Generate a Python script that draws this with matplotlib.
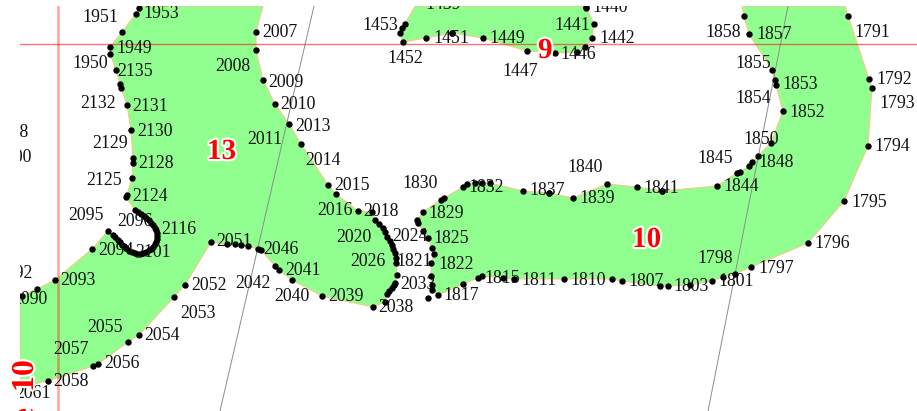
import matplotlib
matplotlib.use('Agg')
import matplotlib.pyplot as plt
import matplotlib.patheffects as pe

# outlines, in pixels of the scanned map
zone13 = [(140, 6), (139, 8), (136, 14), (122, 32), (110, 47), (110, 54), (116, 70), (120, 84), (121, 88),
          (127, 105), (131, 130), (133, 158), (133, 163), (132, 178), (127, 195), (126, 197),
          (135, 210), (138, 212), (141, 214), (144, 216), (146, 218), (149, 220), (151, 223), (153, 225),
          (155, 228), (156, 230), (157, 233), (157, 236), (157, 239), (156, 242), (155, 244), (153, 247),
          (151, 249), (149, 250), (146, 252), (143, 253), (140, 254), (137, 254), (135, 253), (132, 252),
          (129, 251), (126, 248), (124, 246), (122, 245), (120, 242), (118, 240), (115, 237),
          (113, 235), (108, 231), (92, 249), (55, 280), (37, 289), (22, 296), (20, 297), (20, 387),
          (48, 381), (93, 366), (98, 364), (128, 342), (139, 335), (174, 297), (185, 285), (211, 242),
          (227, 244), (235, 244), (241, 245), (248, 246), (258, 249), (261, 250), (275, 266), (279, 270),
          (292, 280), (322, 296), (373, 307), (385, 302), (387, 294), (389, 291), (392, 288), (394, 285),
          (395, 283), (397, 275), (396, 263), (396, 258), (395, 253), (393, 249), (392, 245), (390, 241),
          (387, 237), (385, 232), (383, 228), (379, 224), (375, 220), (372, 212), (358, 211),
          (336, 194), (328, 185), (301, 144), (289, 124), (275, 104), (263, 80), (256, 50), (256, 32),
          (263, 6)]
zone9 = [(415, 6), (405, 24), (402, 28), (400, 33), (403, 42), (426, 38), (452, 33), (483, 38), (527, 51),
         (555, 53), (577, 52), (585, 47), (592, 38), (594, 24), (586, 7), (585, 6)]
zone10 = [(742, 6), (744, 16), (749, 34), (772, 70), (775, 80), (776, 85), (783, 111), (771, 143), (758, 156),
          (752, 162), (749, 166), (740, 172), (737, 173), (717, 186), (662, 191), (637, 187), (607, 184),
          (573, 198), (549, 193), (523, 191), (490, 183), (482, 183), (475, 183), (467, 184), (463, 187),
          (444, 198), (441, 200), (423, 212), (417, 220), (418, 223), (423, 231), (428, 238), (432, 248),
          (434, 254), (431, 263), (431, 276), (432, 285), (432, 290), (438, 295), (463, 284), (478, 278),
          (482, 276), (503, 278), (514, 279), (564, 279), (612, 279), (622, 281), (660, 286), (668, 286),
          (690, 285), (712, 281), (723, 277), (735, 274), (751, 267), (808, 243), (844, 201), (868, 146),
          (872, 88), (869, 79), (848, 16), (845, 6)]
extra_dots = [(428, 298), (549, 193), (662, 191), (586, 8), (418, 6), (452, 33)]

guide_h = [(20, 44), (917, 44)]
guide_v = [(58, 6), (58, 411)]
grid_a = [(314, 6), (220, 411)]
grid_b = [(788, 6), (708, 411)]

labels = ['1951', '1953', '2007', '1949', '2008', '1950', '2135', '2009', '2132', '2131', '2010', '2013',
          '2130', '2129', '2011', '2128', '2125', '2124', '2014', '2015', '2098', '2100',
          '2095', '2096', '2116', '2094', '2101', '2051', '2046', '2041', '2093', '2092', '2090', '2052',
          '2042', '2040', '2053', '2055', '2054', '2057', '2056', '2058', '2061',
          '1830', '1832', '1837', '1839', '2016', '2018', '1829', '2020', '2024', '1825', '2026', '1821',
          '1822', '1815', '1811', '1810', '2033', '2039', '1817', '2038',
          '1841', '1845', '1848', '1844', '1795', '1794', '1796', '1798', '1797', '1807', '1803', '1801',
          '1840', '1850', '1858', '1857', '1791', '1855', '1853', '1792', '1793', '1854', '1852',
          '1453', '1451', '1449', '1441', '1442', '1452', '1447', '1446', '1440', '1439']
label_x = [82, 143, 262, 116, 215, 72, 117, 268, 80, 132, 280, 295,
           137, 92, 247, 138, 86, 132, 305, 334, -7, -4,
           68, 117, 161, 98, 135, 216, 263, 285, 60, -3, 12, 191,
           235, 274, 180, 87, 144, 53, 104, 53, 15,
           402, 468, 529, 579, 317, 363, 428, 336, 392, 433, 350, 396,
           438, 484, 521, 570, 400, 328, 443, 378,
           643, 697, 758, 723, 851, 874, 814, 697, 758, 628, 673, 718,
           567, 743, 705, 756, 854, 735, 782, 876, 879, 735, 789,
           362, 433, 489, 554, 599, 387, 502, 560, 592, 425]
label_y = [22, 18, 37, 53, 71, 68, 76, 87, 108, 111, 109, 131,
           136, 148, 144, 168, 185, 201, 165, 190, 137, 162,
           220, 226, 234, 255, 257, 246, 254, 275, 285, 278, 304, 290,
           288, 301, 318, 332, 340, 354, 368, 386, 398,
           188, 192, 195, 203, 215, 216, 218, 242, 241, 243, 266, 266,
           269, 283, 285, 285, 289, 301, 300, 312,
           193, 163, 167, 191, 207, 151, 248, 263, 273, 286, 291, 286,
           172, 144, 37, 39, 37, 68, 89, 84, 108, 103, 117,
           30, 43, 43, 30, 43, 63, 76, 59, 12, 9]

zone_names = ['13', '10', '9']
zone_x = [207, 632, 538]
zone_y = [159, 247, 58]

fig = plt.figure(figsize=(9.17, 4.11), dpi=100)
ax = fig.add_axes([20 / 917, 0, 897 / 917, 405 / 411])
ax.set_xlim(20, 917)
ax.set_ylim(411, 6)
ax.axis('off')

for outline in (zone13, zone9, zone10):
    ax.fill(*zip(*outline), facecolor='#90ff90', edgecolor='#f5c88a', lw=0.8, zorder=1)

ax.plot(*zip(*grid_a), color='#8c8c8c', lw=0.7, zorder=2)
ax.plot(*zip(*grid_b), color='#8c8c8c', lw=0.7, zorder=2)
ax.plot(*zip(*guide_h), color='#ff0000', alpha=0.55, lw=1.0, zorder=2)
ax.plot(*zip(*guide_v), color='#ff0000', alpha=0.35, lw=1.9, zorder=2)

dots = [p for p in zone13 + zone9 + zone10 + extra_dots if p[0] > 20.5 and p[1] > 6.5]
ax.plot(*zip(*dots), 'o', color='black', ms=4.6, mew=0, zorder=3)

for name, x, y in zip(labels, label_x, label_y):
    ax.text(x, y, name, family='Liberation Serif', fontsize=12.8, color='#111111', va='baseline', ha='left',
            clip_on=True, zorder=4)

halo = [pe.withStroke(linewidth=3, foreground='white')]
for name, x, y in zip(zone_names, zone_x, zone_y):
    ax.text(x, y, name, family='Liberation Serif', fontsize=21, fontweight='bold', color='red', va='baseline',
            ha='left', path_effects=halo, clip_on=True, zorder=5)

# the rotated label runs past the map frame, so it is not clipped
ax.text(33, 360, 'Zone  10', family='Liberation Serif', fontsize=23, fontweight='bold', color='red', rotation=90,
        ha='right', va='baseline', rotation_mode='anchor', path_effects=halo, zorder=5)

fig.savefig('out.png', dpi=100)
